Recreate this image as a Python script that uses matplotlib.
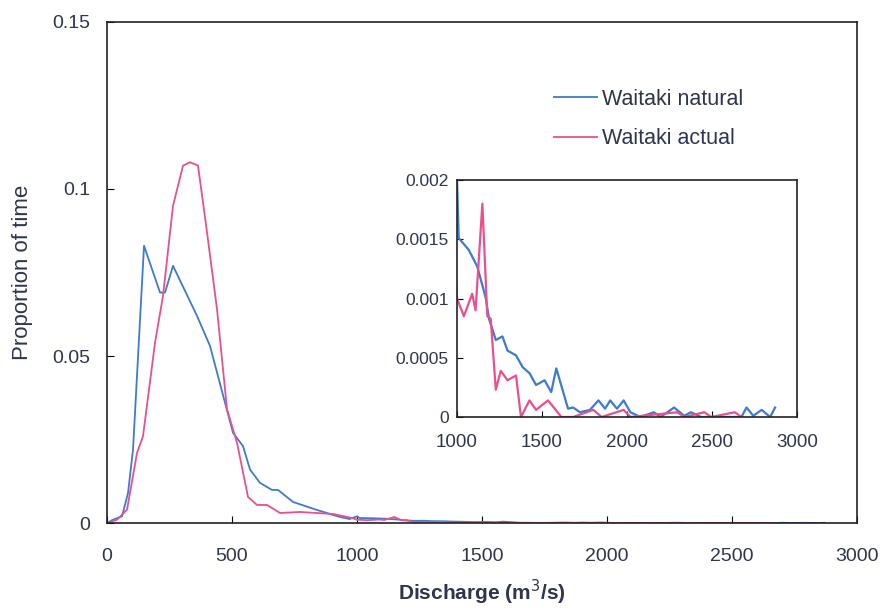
import matplotlib.pyplot as plt
import numpy as np

plt.rcParams['font.family'] = ['Liberation Sans', 'DejaVu Sans']

# Discharge (m3/s) and proportion of time
natural_q = [0, 24, 60, 84, 104, 148, 212, 232, 264, 360, 412, 472, 504, 544, 572,
             612, 660, 684, 744, 840, 932, 970,
             1000, 1010, 1069, 1119, 1168, 1188, 1228, 1267, 1297, 1347, 1386, 1426,
             1465, 1515, 1554, 1584, 1653, 1683, 1723, 1782, 1832, 1871, 1901, 1941,
             1980, 2020, 2079, 2158, 2198, 2277, 2337, 2376, 2436, 2673, 2703, 2743,
             2792, 2842, 2871]
natural_p = [0, 0.001, 0.002, 0.009, 0.022, 0.083, 0.069, 0.069, 0.077, 0.062, 0.053,
             0.036, 0.027, 0.023, 0.016, 0.012, 0.0099, 0.0099, 0.0063, 0.0039, 0.0018,
             0.0012,
             0.002, 0.00151, 0.00141, 0.00127, 0.00101, 0.00083, 0.00065, 0.00068,
             0.00056, 0.00052, 0.00042, 0.00037, 0.00027, 0.00031, 0.00021, 0.00041,
             0.00007, 0.00008, 0.00004, 0.00006, 0.00014, 0.00007, 0.00014, 0.00007,
             0.00014, 0.00004, 0, 0.00004, 0, 0.00008, 0.00001, 0.00004, 0, 0,
             0.00008, 0.00001, 0.00006, 0, 0.00008]

actual_q = [0, 40, 80, 120, 144, 192, 224, 264, 304, 332, 364, 400, 440, 480, 520,
            564, 600, 640, 692, 772, 904, 980,
            1000, 1040, 1089, 1109, 1149, 1178, 1198, 1228, 1257, 1297, 1347, 1376,
            1426, 1465, 1535, 1614, 1683, 1802, 1851, 1980, 2020, 2297, 2337, 2455,
            2495, 2634, 2673]
actual_p = [0, 0.001, 0.004, 0.021, 0.026, 0.054, 0.068, 0.095, 0.107, 0.108, 0.107,
            0.087, 0.064, 0.034, 0.024, 0.0078, 0.0054, 0.0054, 0.003, 0.0033, 0.0027,
            0.0015,
            0.001, 0.00085, 0.00104, 0.0009, 0.0018, 0.00085, 0.00083, 0.00023,
            0.00039, 0.00031, 0.00035, 0, 0.00014, 0.00006, 0.00014, 0, 0, 0.00006,
            0, 0.00006, 0, 0.00004, 0, 0.00004, 0, 0.00004, 0]

BLUE = '#3d7bd0'
PINK = '#ea4f8e'
TEXT = '#2f3550'

fig = plt.figure(figsize=(8.83, 6.09), dpi=100)
ax = fig.add_axes([0.1212, 0.1412, 0.8494, 0.8227])

ax.plot(natural_q, natural_p, color=BLUE, linewidth=1.3, label='Waitaki natural')
ax.plot(actual_q, actual_p, color=PINK, linewidth=1.3, label='Waitaki actual')

ax.set_xlim(0, 3000)
ax.set_ylim(0, 0.15)
ax.set_xticks([0, 500, 1000, 1500, 2000, 2500, 3000])
ax.set_yticks([0, 0.05, 0.1, 0.15])
ax.set_yticklabels(['0', '0.05', '0.1', '0.15'])
ax.tick_params(direction='in', length=5, labelsize=14, labelcolor=TEXT)
ax.tick_params(axis='x', pad=18)
ax.tick_params(axis='y', pad=12)
for s in ax.spines.values():
    s.set_linewidth(1.2)
    s.set_color('#222222')
ax.set_xlabel('Discharge (m$^3$/s)', fontsize=15, fontweight='bold', color=TEXT, labelpad=9)
ax.set_ylabel('Proportion of time', fontsize=16, color=TEXT, labelpad=14)

ax.legend(loc='upper left', bbox_to_anchor=(0.57, 0.905), frameon=False, fontsize=15.5,
          handlelength=2.0, handletextpad=0.25, labelspacing=0.85, labelcolor=TEXT)

# inset zoom on the tail
axi = fig.add_axes([0.5176, 0.3153, 0.385, 0.3891])
axi.plot(natural_q, natural_p, color=BLUE, linewidth=1.6)
axi.plot(actual_q, actual_p, color=PINK, linewidth=1.6)
axi.set_xlim(1000, 3000)
axi.set_ylim(0, 0.002)
axi.set_xticks([1000, 1500, 2000, 2500, 3000])
axi.set_yticks([0, 0.0005, 0.001, 0.0015, 0.002])
axi.set_yticklabels(['0', '0.0005', '0.001', '0.0015', '0.002'])
axi.tick_params(direction='in', length=4, labelsize=12.5, labelcolor=TEXT)
axi.tick_params(axis='x', labelsize=13.5, pad=12)
axi.tick_params(axis='y', pad=6)
for s in axi.spines.values():
    s.set_linewidth(1.2)
    s.set_color('#222222')

fig.savefig('out.png', dpi=100)
